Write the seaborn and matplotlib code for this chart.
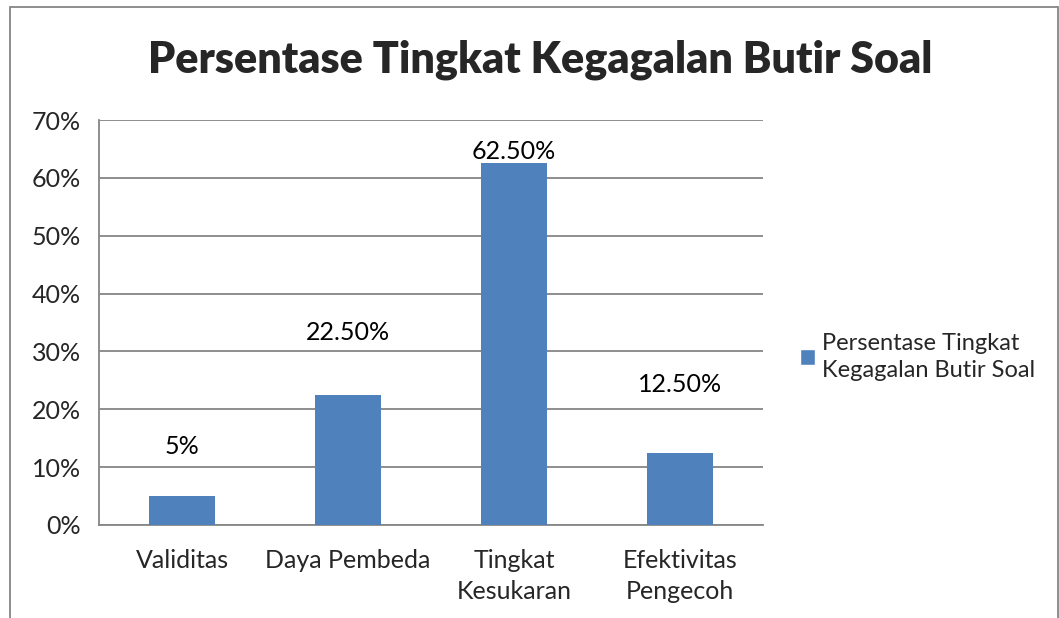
import numpy as np
import pandas as pd
import seaborn as sns
import matplotlib.pyplot as plt
from matplotlib.patches import Rectangle, Patch

# Data
categories = ["Validitas", "Daya Pembeda", "Tingkat\nKesukaran", "Efektivitas\nPengecoh"]
values = [5, 22.5, 62.5, 12.5]
value_labels = ["5%", "22.50%", "62.50%", "12.50%"]
label_pos = [13.5, 33.2, 64.5, 24.2]   # where Excel put the data labels
y_ticks = [0, 10, 20, 30, 40, 50, 60, 70]
series_name = "Persentase Tingkat\nKegagalan Butir Soal"

df = pd.DataFrame({"Kategori": categories, "Persen": values})

sns.set_style("white")
plt.rcParams["font.family"] = ["Lato", "DejaVu Sans"]

bar_color = "#4F81BD"
grid_color = "#868686"
fs = 18

fig = plt.figure(figsize=(10.59, 6.18), dpi=100)
ax = fig.add_axes([99 / 1059, 1 - 525 / 618, 664 / 1059, 405 / 618])

sns.barplot(data=df, x="Kategori", y="Persen", color=bar_color, width=0.4,
            saturation=1, linewidth=0, ax=ax, zorder=3)

ax.set_ylim(0, 70)
ax.set_xlim(-0.5, len(categories) - 0.5)
ax.set_yticks(y_ticks)
ax.set_yticklabels([f"{t}%" for t in y_ticks])
ax.yaxis.grid(True, color=grid_color, linewidth=1.3, zorder=0)
ax.set_axisbelow(True)
ax.set_xlabel("")
ax.set_ylabel("")

for side in ["top", "right"]:
    ax.spines[side].set_visible(False)
for side in ["left", "bottom"]:
    ax.spines[side].set_color(grid_color)
    ax.spines[side].set_linewidth(1.3)

# category ticks sit on the boundaries
ax.set_xticks(np.arange(len(categories) + 1) - 0.5, minor=True)
ax.tick_params(axis="x", which="minor", length=8, width=1.3, color=grid_color, direction="out")
ax.tick_params(axis="x", which="major", length=0, labelsize=fs, pad=17)
ax.tick_params(axis="y", length=8, width=1.3, color=grid_color, direction="out",
               labelsize=fs, pad=5)
for lbl in ax.get_xticklabels():
    lbl.set_linespacing(1.45)

for i, (txt, pos) in enumerate(zip(value_labels, label_pos)):
    ax.text(i, pos, txt, ha="center", va="center", fontsize=fs, color="black")

fig.text(540 / 1059, 1 - 60 / 618, "Persentase Tingkat Kegagalan Butir Soal",
         ha="center", va="center", fontsize=31, fontweight="heavy")

legend = fig.legend(handles=[Patch(facecolor=bar_color, label=series_name)],
                    loc="center left", bbox_to_anchor=(800 / 1059, 1 - 357 / 618),
                    frameon=False, fontsize=17, handlelength=0.64, handleheight=0.64,
                    handletextpad=0.3, borderpad=0, borderaxespad=0)
for t in legend.get_texts():
    t.set_linespacing(1.3)

# chart frame (bottom edge is cut off in the original)
fig.patches.append(Rectangle((10 / 1059, -0.1), 1048 / 1059, 1.1 - 7 / 618,
                             transform=fig.transFigure, fill=False,
                             edgecolor=grid_color, linewidth=1.3))

plt.savefig("out.png", dpi=100)
